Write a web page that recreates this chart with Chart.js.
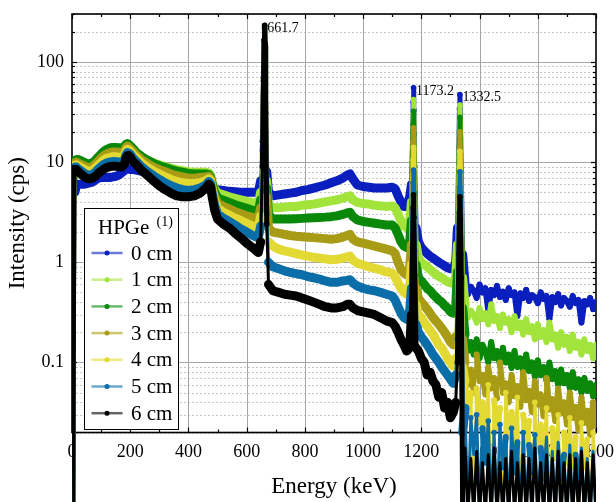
<!DOCTYPE html>
<html>
<head>
<meta charset="utf-8">
<title>HPGe spectra</title>
<script src="https://cdn.jsdelivr.net/npm/chart.js@4.4.1/dist/chart.umd.min.js"></script>
<style>
	html, body { margin: 0; padding: 0; background: #fff; }
	canvas { display: block; }
</style>
</head>
<body>
<canvas id="spectrum" width="616" height="502"></canvas>
<script>
// Energy bins (keV), shared by every absorber thickness
var energy = [
	0, 3, 6, 10, 15, 20,
	30, 40, 50, 60, 70, 80, 90, 100, 110, 120, 130, 140, 150, 160, 170, 180,
	185, 190, 195, 200, 210,
	220, 240, 260, 280, 300, 320, 340, 360, 380, 400, 420, 440, 460,
	470, 476, 482, 490, 500,
	520, 540, 560, 580, 600, 620, 640,
	648, 654, 658, 660, 661.7, 663, 665, 669, 675,
	690, 710, 730, 750, 770, 790, 810, 830, 850, 870, 890, 910, 930, 945, 955, 965, 980,
	1000, 1020, 1040, 1060, 1080, 1100, 1110, 1120, 1130, 1140, 1150, 1160,
	1166, 1170, 1172, 1173.2, 1174.5, 1177, 1182,
	1190, 1200, 1210, 1220, 1230, 1240, 1250, 1260, 1270, 1280, 1290, 1300, 1310, 1318,
	1324, 1329, 1331, 1332.5, 1334, 1337, 1342,
	1350, 1360, 1370, 1380, 1390, 1400, 1410, 1420, 1430, 1440, 1450, 1460, 1470, 1480, 1490, 1500,
	1510, 1520, 1530, 1540, 1550, 1560, 1570, 1580, 1590, 1600, 1610, 1620, 1630, 1640, 1650, 1660,
	1670, 1680, 1690, 1700, 1710, 1720, 1730, 1740, 1750, 1760, 1770, 1780, 1790, 1800
];

// Count rates (cps); 0.003 marks empty channels (below the visible range)
var cm0 = [
	7.5, 6.0, 0.003, 5.0, 5.8, 6.0,
	6.0, 6.0, 6.1, 6.2, 6.3, 6.6, 6.9, 7.0, 7.0, 7.0, 7.0, 7.1, 7.2, 7.4, 7.8, 8.2,
	8.5, 8.6, 8.5, 8.4, 8.4,
	8.3, 8.1, 7.9, 7.7, 7.5, 7.3, 7.1, 6.9, 6.8, 6.7, 6.6, 6.5, 6.4,
	6.3, 6.1, 5.8, 5.5, 5.3,
	5.2, 5.1, 5.05, 5.0, 5.0, 5.0, 5.0,
	6.5, 16, 70, 160, 212, 140, 38, 8, 5.0,
	4.6, 4.7, 4.8, 4.9, 5.0, 5.2, 5.3, 5.5, 5.7, 5.9, 6.2, 6.5, 6.9, 7.4, 7.6, 6.8, 5.9,
	5.7, 5.6, 5.5, 5.5, 5.5, 5.6, 5.4, 4.6, 4.0, 3.6, 3.6, 4.5,
	6, 17, 40, 55, 33, 9, 2.2,
	1.6, 1.4, 1.3, 1.22, 1.15, 1.1, 1.05, 1.0, 0.96, 0.92, 0.88, 0.86, 0.87, 1.0,
	2.2, 14, 34, 47, 30, 8, 1.2,
	0.62, 0.48, 0.57, 0.52, 0.44, 0.6, 0.5, 0.55, 0.33, 0.53, 0.47, 0.58, 0.45, 0.51, 0.42, 0.55,
	0.47, 0.5, 0.29, 0.49, 0.44, 0.53, 0.41, 0.47, 0.45, 0.39, 0.5, 0.43, 0.46, 0.27, 0.45, 0.4,
	0.48, 0.37, 0.44, 0.41, 0.36, 0.46, 0.39, 0.42, 0.25, 0.41, 0.38, 0.44, 0.34, 0.4
];
var cm1 = [
	9.0, 8.5, 0.003, 9.6, 10.0, 10.0,
	9.8, 9.5, 9.2, 9.1, 9.3, 9.9, 10.6, 11.4, 12.2, 12.7, 13.1, 13.3, 13.3, 13.2, 13.1, 13.5,
	14.3, 14.6, 14.4, 14.0, 13.2,
	12.0, 11.0, 10.4, 9.8, 9.4, 9.0, 8.7, 8.4, 8.2, 8.0, 7.9, 7.9, 7.9,
	7.8, 7.4, 6.3, 5.4, 4.9,
	4.7, 4.5, 4.35, 4.2, 4.05, 3.95, 3.8,
	5.0, 14, 68, 160, 215, 142, 36, 6.5, 3.6,
	3.5, 3.5, 3.55, 3.6, 3.6, 3.7, 3.75, 3.8, 3.9, 4.0, 4.1, 4.2, 4.35, 4.5, 4.6, 4.2, 3.95,
	3.85, 3.8, 3.7, 3.65, 3.6, 3.65, 3.5, 3.0, 2.6, 2.3, 2.2, 2.5,
	4, 13, 31, 42, 25, 6.5, 1.5,
	1.1, 1.0, 0.95, 0.9, 0.85, 0.8, 0.76, 0.72, 0.7, 0.67, 0.64, 0.62, 0.62, 0.72,
	1.5, 11, 27, 37, 23, 6, 0.7,
	0.37, 0.28, 0.33, 0.3, 0.25, 0.35, 0.27, 0.31, 0.24, 0.38, 0.26, 0.29, 0.22, 0.3, 0.25, 0.27,
	0.2, 0.29, 0.22, 0.25, 0.19, 0.27, 0.2, 0.23, 0.17, 0.24, 0.18, 0.21, 0.16, 0.25, 0.17, 0.19,
	0.14, 0.2, 0.15, 0.18, 0.13, 0.19, 0.14, 0.16, 0.12, 0.17, 0.13, 0.15, 0.11, 0.15
];
var cm2 = [
	9.2, 8.7, 0.003, 10.2, 10.6, 10.6,
	10.3, 10.0, 9.7, 9.6, 9.8, 10.4, 11.2, 12.0, 12.8, 13.4, 13.8, 14.0, 14.0, 13.9, 13.8, 14.2,
	15.0, 15.3, 15.0, 14.5, 13.6,
	12.5, 11.3, 10.4, 9.7, 9.2, 8.8, 8.4, 8.1, 7.9, 7.7, 7.6, 7.6, 7.6,
	7.5, 7.1, 6.0, 5.0, 4.4,
	4.15, 3.95, 3.75, 3.6, 3.45, 3.3, 3.2,
	4.2, 13, 68, 162, 218, 144, 35, 5.5, 3.0,
	2.7, 2.7, 2.7, 2.7, 2.72, 2.74, 2.76, 2.78, 2.8, 2.82, 2.85, 2.9, 3.0, 3.1, 3.15, 2.85, 2.65,
	2.55, 2.5, 2.45, 2.4, 2.35, 2.35, 2.2, 1.9, 1.6, 1.45, 1.4, 1.6,
	2.6, 10, 24, 32, 19, 5, 0.95,
	0.7, 0.65, 0.6, 0.55, 0.52, 0.48, 0.45, 0.42, 0.4, 0.37, 0.35, 0.32, 0.31, 0.36,
	0.8, 8, 20, 28, 17, 4.5, 0.35,
	0.19, 0.13, 0.16, 0.12, 0.17, 0.11, 0.15, 0.13, 0.1, 0.16, 0.11, 0.13, 0.095, 0.14, 0.1, 0.12,
	0.088, 0.13, 0.09, 0.11, 0.08, 0.12, 0.082, 0.1, 0.072, 0.105, 0.075, 0.09, 0.066, 0.1, 0.068, 0.082,
	0.06, 0.085, 0.062, 0.075, 0.055, 0.08, 0.056, 0.068, 0.05, 0.07, 0.052, 0.062, 0.046, 0.06
];
var cm3 = [
	9.0, 8.5, 0.003, 9.8, 10.0, 9.8,
	9.5, 9.2, 8.9, 8.8, 9.0, 9.5, 10.2, 10.9, 11.6, 12.1, 12.4, 12.6, 12.6, 12.5, 12.4, 12.9,
	13.9, 14.4, 14.1, 13.6, 12.7,
	11.8, 10.5, 9.6, 8.9, 8.4, 8.0, 7.6, 7.3, 7.1, 6.9, 6.9, 7.0, 7.1,
	7.2, 6.8, 5.6, 4.5, 3.9,
	3.6, 3.4, 3.2, 3.05, 2.9, 2.8, 2.7,
	3.5, 12, 67, 162, 221, 146, 34, 4.5, 2.2,
	2.0, 1.95, 1.9, 1.85, 1.82, 1.8, 1.78, 1.76, 1.74, 1.72, 1.7, 1.72, 1.78, 1.85, 1.9, 1.7, 1.6,
	1.55, 1.5, 1.45, 1.4, 1.35, 1.3, 1.22, 1.0, 0.85, 0.78, 0.75, 0.9,
	1.5, 6.5, 16, 22, 13, 3.3, 0.55,
	0.44, 0.4, 0.37, 0.34, 0.31, 0.28, 0.26, 0.24, 0.22, 0.2, 0.18, 0.16, 0.15, 0.18,
	0.45, 5.5, 14, 20, 12, 3.2, 0.17,
	0.1, 0.06, 0.085, 0.05, 0.12, 0.065, 0.075, 0.048, 0.09, 0.055, 0.07, 0.044, 0.1, 0.05, 0.062, 0.04,
	0.075, 0.046, 0.058, 0.036, 0.08, 0.042, 0.052, 0.032, 0.065, 0.038, 0.048, 0.029, 0.07, 0.034, 0.043, 0.026,
	0.055, 0.031, 0.04, 0.024, 0.05, 0.028, 0.036, 0.021, 0.045, 0.025, 0.033, 0.019, 0.04, 0.023
];
var cm4 = [
	8.8, 8.3, 0.003, 9.3, 9.4, 9.2,
	8.8, 8.5, 8.2, 8.1, 8.2, 8.7, 9.3, 9.9, 10.5, 10.9, 11.1, 11.3, 11.3, 11.2, 11.1, 11.7,
	12.8, 13.4, 13.2, 12.8, 11.8,
	11.0, 9.7, 8.8, 8.1, 7.6, 7.1, 6.7, 6.4, 6.2, 6.1, 6.1, 6.2, 6.5,
	6.8, 6.5, 5.2, 4.1, 3.45,
	3.15, 2.95, 2.75, 2.6, 2.45, 2.3, 2.2,
	2.9, 11, 66, 163, 224, 148, 33, 3.8, 1.6,
	1.45, 1.35, 1.3, 1.26, 1.22, 1.18, 1.15, 1.12, 1.1, 1.08, 1.06, 1.07, 1.1, 1.13, 1.15, 1.05, 0.98,
	0.94, 0.9, 0.87, 0.84, 0.8, 0.78, 0.72, 0.62, 0.55, 0.5, 0.48, 0.58,
	0.95, 4.2, 10.5, 14, 8.4, 2.1, 0.38,
	0.3, 0.28, 0.25, 0.23, 0.21, 0.19, 0.17, 0.15, 0.14, 0.125, 0.11, 0.1, 0.092, 0.11,
	0.28, 3.5, 9, 12.8, 7.8, 2, 0.09,
	0.065, 0.03, 0.05, 0.003, 0.055, 0.025, 0.04, 0.02, 0.06, 0.003, 0.042, 0.022, 0.035, 0.003, 0.05, 0.018,
	0.032, 0.015, 0.045, 0.003, 0.03, 0.016, 0.026, 0.003, 0.04, 0.013, 0.024, 0.012, 0.035, 0.003, 0.022, 0.011,
	0.03, 0.003, 0.02, 0.01, 0.028, 0.009, 0.018, 0.003, 0.025, 0.009, 0.017, 0.003, 0.02, 0.008
];
var cm5 = [
	8.6, 8.1, 0.003, 8.9, 8.9, 8.6,
	8.2, 7.8, 7.5, 7.4, 7.5, 7.9, 8.5, 9.0, 9.5, 9.8, 10.0, 10.1, 10.1, 10.0, 9.9, 10.5,
	11.7, 12.4, 12.3, 12.0, 10.9,
	10.2, 8.9, 8.0, 7.3, 6.7, 6.2, 5.8, 5.5, 5.3, 5.2, 5.3, 5.5, 5.9,
	6.4, 6.1, 4.8, 3.7, 3.05,
	2.75, 2.55, 2.35, 2.15, 2.0, 1.85, 1.75,
	2.3, 10, 65, 164, 228, 150, 32, 3.0, 1.0,
	0.9, 0.86, 0.82, 0.79, 0.77, 0.75, 0.72, 0.7, 0.68, 0.65, 0.63, 0.63, 0.65, 0.66, 0.67, 0.62, 0.58,
	0.55, 0.53, 0.52, 0.5, 0.48, 0.46, 0.42, 0.36, 0.31, 0.28, 0.27, 0.33,
	0.55, 2.5, 6.2, 8.3, 5, 1.3, 0.24,
	0.2, 0.18, 0.165, 0.15, 0.135, 0.12, 0.11, 0.1, 0.09, 0.082, 0.075, 0.068, 0.062, 0.075,
	0.17, 2.2, 5.6, 8, 4.9, 1.2, 0.02,
	0.035, 0.003, 0.028, 0.012, 0.03, 0.003, 0.022, 0.01, 0.026, 0.003, 0.02, 0.003, 0.024, 0.009, 0.018, 0.003,
	0.022, 0.008, 0.016, 0.003, 0.02, 0.003, 0.015, 0.008, 0.019, 0.003, 0.014, 0.007, 0.018, 0.003, 0.013, 0.003,
	0.016, 0.007, 0.012, 0.003, 0.015, 0.003, 0.012, 0.006, 0.014, 0.003, 0.011, 0.003, 0.013, 0.003
];
var cm6 = [
	8.4, 7.9, 0.003, 8.4, 8.4, 8.1,
	7.6, 7.2, 6.9, 6.8, 6.9, 7.2, 7.7, 8.1, 8.5, 8.8, 9.0, 9.1, 9.1, 9.0, 8.9, 9.5,
	10.8, 11.6, 11.6, 11.2, 10.1,
	9.5, 8.2, 7.3, 6.5, 5.8, 5.3, 4.9, 4.6, 4.5, 4.5, 4.6, 4.9, 5.5,
	6.0, 5.7, 4.4, 3.3, 2.7,
	2.4, 2.2, 1.95, 1.75, 1.55, 1.4, 1.25,
	1.6, 9, 64, 165, 232, 152, 31, 2.4, 0.6,
	0.52, 0.5, 0.48, 0.47, 0.46, 0.44, 0.42, 0.4, 0.38, 0.36, 0.35, 0.35, 0.36, 0.38, 0.38, 0.35, 0.33,
	0.32, 0.31, 0.3, 0.28, 0.26, 0.25, 0.23, 0.2, 0.17, 0.15, 0.13, 0.14,
	0.3, 1.4, 3.5, 4.7, 2.8, 0.75, 0.14,
	0.13, 0.11, 0.1, 0.075, 0.08, 0.065, 0.06, 0.045, 0.05, 0.035, 0.04, 0.028, 0.032, 0.04,
	0.1, 1.2, 3.1, 4.5, 2.7, 0.7, 0.003,
	0.014, 0.003, 0.011, 0.003, 0.013, 0.003, 0.01, 0.003, 0.012, 0.003, 0.014, 0.003, 0.01, 0.003, 0.011, 0.003,
	0.013, 0.003, 0.01, 0.003, 0.012, 0.003, 0.011, 0.003, 0.014, 0.003, 0.01, 0.003, 0.012, 0.003, 0.011, 0.003,
	0.013, 0.003, 0.01, 0.003, 0.012, 0.003, 0.011, 0.003, 0.013, 0.003, 0.01, 0.003, 0.012, 0.003
];

var seriesLabels = ['0 cm', '1 cm', '2 cm', '3 cm', '4 cm', '5 cm', '6 cm'];
var seriesColors = ['#0b1fbf', '#a3e43c', '#0a880a', '#a89c16', '#e3d934', '#0b6ea8', '#000000'];
var peakEnergies = [661.7, 1173.2, 1332.5];
var yTickValues = [0.1, 1, 10, 100];

var allSeries = [cm0, cm1, cm2, cm3, cm4, cm5, cm6];

var serif = '"Liberation Serif", "Times New Roman", serif';
Chart.defaults.font.family = serif;
Chart.defaults.color = '#000';

function line(ctx, x1, y1, x2, y2) {
	ctx.beginPath();
	ctx.moveTo(x1, y1);
	ctx.lineTo(x2, y2);
	ctx.stroke();
}

function nearPeak(e) {
	for (var i = 0; i < peakEnergies.length; i++) {
		if (Math.abs(e - peakEnergies[i]) < 12) return true;
	}
	return false;
}

// band width of a line piece: thick for the continuum, narrower for peaks,
// empty channels and the noisy high-energy tail
function segmentWidth(ctx) {
	var a = ctx.p0.parsed, b = ctx.p1.parsed;
	if (nearPeak(a.x) && nearPeak(b.x)) return 5;
	if (Math.abs(Math.log10(b.y / a.y)) > 0.35) return 3;
	if (a.x >= 1345) return 6;
	return 9;
}

// grid, frame and inward ticks, drawn under the spectra
var framePlugin = {
	id: 'frame',
	beforeDatasetsDraw: function (chart) {
		var ctx = chart.ctx;
		var a = chart.chartArea;
		var xs = chart.scales.x;
		var ys = chart.scales.y;
		var decades = [0.01, 0.1, 1, 10, 100];
		ctx.save();

		// dotted minor grid
		ctx.lineWidth = 1;
		ctx.strokeStyle = '#c6c6c6';
		ctx.setLineDash([2, 2]);
		decades.forEach(function (d) {
			for (var m = 2; m <= 9; m++) {
				var v = m * d;
				if (v < 0.0199 || v > 300.1) continue;
				var py = Math.round(ys.getPixelForValue(v)) + 0.5;
				line(ctx, a.left, py, a.right, py);
			}
		});
		ctx.setLineDash([]);

		// major grid
		ctx.strokeStyle = '#a6a6a6';
		yTickValues.forEach(function (v) {
			var py = Math.round(ys.getPixelForValue(v)) + 0.5;
			line(ctx, a.left, py, a.right, py);
		});
		for (var e = 200; e < 1800; e += 200) {
			var px = Math.round(xs.getPixelForValue(e)) + 0.5;
			line(ctx, px, a.top, px, a.bottom);
		}

		// ticks on all four sides, pointing in
		ctx.strokeStyle = '#000';
		ctx.lineWidth = 1.2;
		for (var k = 0; k <= 1800; k += 100) {
			var tx = Math.round(xs.getPixelForValue(k)) + 0.5;
			var len = k % 200 === 0 ? 5 : 3;
			line(ctx, tx, a.bottom, tx, a.bottom - len);
			line(ctx, tx, a.top, tx, a.top + len);
		}
		decades.forEach(function (d) {
			for (var m = 1; m <= 9; m++) {
				var v = m * d;
				if (v < 0.0199 || v > 300.1) continue;
				var ty = Math.round(ys.getPixelForValue(v)) + 0.5;
				var tl = m === 1 ? 5 : 3;
				line(ctx, a.left, ty, a.left + tl, ty);
				line(ctx, a.right, ty, a.right - tl, ty);
			}
		});

		ctx.lineWidth = 1.6;
		ctx.strokeRect(a.left, a.top, a.right - a.left, a.bottom - a.top);
		ctx.restore();
	}
};

// peak energies, legend and axis titles
var labelPlugin = {
	id: 'labels',
	afterDatasetsDraw: function (chart) {
		var ctx = chart.ctx;
		var a = chart.chartArea;
		var xs = chart.scales.x;
		var ys = chart.scales.y;
		ctx.save();

		ctx.fillStyle = '#000';
		ctx.font = '14px ' + serif;
		ctx.textAlign = 'left';
		ctx.textBaseline = 'middle';
		peakEnergies.forEach(function (pe) {
			var idx = energy.indexOf(pe);
			var top = 0;
			allSeries.forEach(function (s) { if (s[idx] > top) top = s[idx]; });
			ctx.fillText(pe.toFixed(1), xs.getPixelForValue(pe) + 2.5, ys.getPixelForValue(top) + 3);
		});

		// legend box
		var bx = a.left + 12.5, by = a.top + 194.5;
		ctx.fillStyle = '#fff';
		ctx.fillRect(bx, by, 94, 221);
		ctx.strokeStyle = '#000';
		ctx.lineWidth = 1;
		ctx.strokeRect(bx, by, 94, 221);
		ctx.fillStyle = '#000';
		ctx.textBaseline = 'alphabetic';
		ctx.font = '21px ' + serif;
		ctx.fillText('HPGe', bx + 13.5, by + 25);
		ctx.font = '14px ' + serif;
		ctx.fillText('(1)', bx + 72, by + 17);
		chart.data.datasets.forEach(function (ds, i) {
			var cy = by + 44.5 + i * 26.7;
			ctx.globalAlpha = 0.6;
			ctx.strokeStyle = ds.borderColor;
			ctx.lineWidth = 2.5;
			line(ctx, bx + 7, cy, bx + 38, cy);
			ctx.globalAlpha = 1;
			ctx.fillStyle = ds.borderColor;
			ctx.beginPath();
			ctx.arc(bx + 22.5, cy, 2.5, 0, Math.PI * 2);
			ctx.fill();
			ctx.fillStyle = '#000';
			ctx.font = '21px ' + serif;
			ctx.textBaseline = 'middle';
			ctx.fillText(ds.label, bx + 46.5, cy + 1);
		});
		ctx.restore();
	},
	afterDraw: function (chart) {
		var ctx = chart.ctx;
		var a = chart.chartArea;
		ctx.save();
		ctx.fillStyle = '#000';
		ctx.font = '23px ' + serif;
		ctx.textAlign = 'center';
		ctx.textBaseline = 'middle';
		ctx.fillText('Energy (keV)', (a.left + a.right) / 2, 487);
		ctx.translate(18, (a.top + a.bottom) / 2);
		ctx.rotate(-Math.PI / 2);
		ctx.fillText('Intensity (cps)', 0, 0);
		ctx.restore();
	}
};

var datasets = allSeries.map(function (vals, i) {
	return {
		label: seriesLabels[i],
		data: vals.map(function (v, j) { return { x: energy[j], y: v }; }),
		borderColor: seriesColors[i],
		backgroundColor: seriesColors[i],
		pointBackgroundColor: seriesColors[i],
		pointBorderWidth: 0,
		pointRadius: 2.8,
		pointHoverRadius: 0,
		borderWidth: 9,
		borderJoinStyle: 'round',
		borderCapStyle: 'round',
		tension: 0,
		order: allSeries.length - i,
		clip: { left: 0, top: 0, right: 0, bottom: false },
		segment: { borderWidth: segmentWidth }
	};
});

new Chart(document.getElementById('spectrum').getContext('2d'), {
	type: 'line',
	data: { datasets: datasets },
	options: {
		responsive: false,
		animation: false,
		devicePixelRatio: 1,
		layout: { padding: { left: 0, right: 20, top: 14, bottom: 0 } },
		plugins: {
			legend: { display: false },
			tooltip: { enabled: false }
		},
		scales: {
			x: {
				type: 'linear',
				min: 0,
				max: 1800,
				grid: { display: false, drawTicks: false },
				border: { display: false },
				ticks: {
					stepSize: 200,
					padding: 9,
					maxRotation: 0,
					font: { size: 18 },
					callback: function (v) { return v; }
				},
				afterFit: function (s) {
					s.height = 69.5;
					s.paddingLeft = 0;
					s.paddingRight = 0;
				}
			},
			y: {
				type: 'logarithmic',
				min: 0.02,
				max: 300,
				grid: { display: false, drawTicks: false },
				border: { display: false },
				ticks: {
					padding: 8,
					font: { size: 18 },
					callback: function (v) { return String(v); }
				},
				afterBuildTicks: function (s) {
					s.ticks = yTickValues.map(function (v) { return { value: v }; });
				},
				afterFit: function (s) {
					s.width = 72;
					s.paddingTop = 0;
					s.paddingBottom = 0;
				}
			}
		}
	},
	plugins: [framePlugin, labelPlugin]
});
</script>
</body>
</html>
